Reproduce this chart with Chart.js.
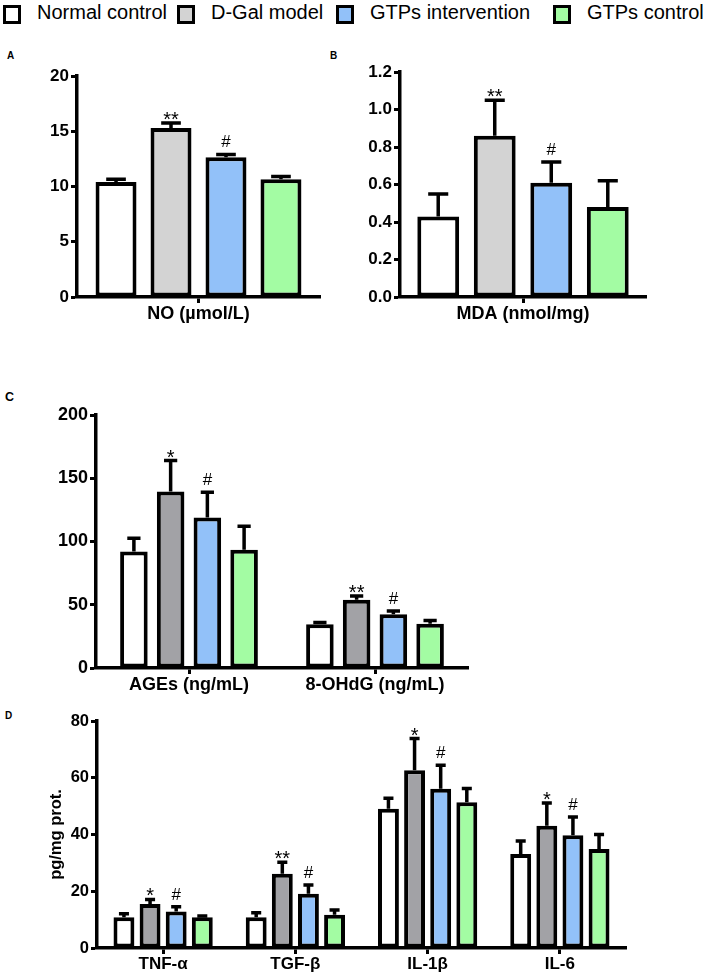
<!DOCTYPE html>
<html lang="en">
<head>
<meta charset="UTF-8">
<title>GTPs - oxidative stress and inflammation</title>
<script src="https://cdn.jsdelivr.net/npm/chart.js"></script>
<style>
  body {
    margin: 0;
    width: 708px;
    height: 978px;
    position: relative;
    overflow: hidden;
    background: #fff;
    font-family: "Liberation Sans", Arial, sans-serif;
    color: #000;
  }
  canvas { position: absolute; }
  .letter { position: absolute; font-weight: bold; line-height: 1; }
  .key {
    position: absolute;
    top: 5px;
    width: 18px;
    height: 19px;
    box-sizing: border-box;
    border: 3px solid #000;
  }
  .key-label { position: absolute; top: 1px; font-size: 20px; line-height: 23px; white-space: nowrap; }
</style>
</head>
<body>
<div id="legend"></div>

<div class="letter" style="left:7px;top:51px;font-size:10px">A</div>
<div class="letter" style="left:330px;top:51px;font-size:10px">B</div>
<div class="letter" style="left:5px;top:391px;font-size:12.5px">C</div>
<div class="letter" style="left:5px;top:711px;font-size:10px">D</div>

<canvas id="chartA" width="340" height="300" style="left:0;top:40px"></canvas>
<canvas id="chartB" width="340" height="300" style="left:330px;top:40px"></canvas>
<canvas id="chartC" width="708" height="320" style="left:0;top:380px"></canvas>
<canvas id="chartD" width="708" height="278" style="left:0;top:700px"></canvas>

<script>
const groups = ['Normal control', 'D-Gal model', 'GTPs intervention', 'GTPs control'];

// A - NO
const noLabels = ['NO (µmol/L)'];
const noMean = [10.4, 15.3, 12.65, 10.65];
const noErr = [0.25, 0.45, 0.25, 0.25];
const noSig = ['', '**', '#', ''];

// B - MDA
const mdaLabels = ['MDA (nmol/mg)'];
const mdaMean = [0.43, 0.86, 0.61, 0.48];
const mdaErr = [0.12, 0.19, 0.11, 0.14];
const mdaSig = ['', '**', '#', ''];

// C - AGEs / 8-OHdG
const cLabels = ['AGEs (ng/mL)', '8-OHdG (ng/mL)'];
const agesMean = [92, 139.5, 119, 93.5];
const agesErr = [10.5, 24.5, 20, 18.5];
const agesSig = ['', '*', '#', ''];
const ohdgMean = [34.5, 54, 42.5, 35];
const ohdgErr = [1.5, 3, 2.5, 2.5];
const ohdgSig = ['', '**', '#', ''];

// D - cytokines
const dLabels = ['TNF-α', 'TGF-β', 'IL-1β', 'IL-6'];
const tnfMean = [10.8, 15.5, 12.9, 10.8];
const tnfErr = [1.3, 1.6, 1.6, 0.5];
const tnfSig = ['', '*', '#', ''];
const tgfMean = [10.8, 26.2, 19.1, 11.7];
const tgfErr = [1.6, 4.0, 3.1, 1.7];
const tgfSig = ['', '**', '#', ''];
const il1bMean = [49.1, 62.6, 56.1, 51.4];
const il1bErr = [3.7, 11.2, 8.3, 4.8];
const il1bSig = ['', '*', '#', ''];
const il6Mean = [33.1, 43.1, 39.7, 34.9];
const il6Err = [4.6, 8.0, 6.5, 5.1];
const il6Sig = ['', '*', '#', ''];

const lightColors = ['#ffffff', '#d3d3d3', '#92c1f9', '#a3fca3'];
const darkColors = ['#ffffff', '#a2a2a6', '#92c1f9', '#a3fca3'];
const FONT = '"Liberation Sans", Arial, sans-serif';

// legend across the top
const legendX = [3, 177, 336, 553];
const legend = document.getElementById('legend');
groups.forEach((g, i) => {
    const box = document.createElement('div');
    box.className = 'key';
    box.style.left = legendX[i] + 'px';
    box.style.background = lightColors[i];
    legend.appendChild(box);
    const txt = document.createElement('div');
    txt.className = 'key-label';
    txt.style.left = (legendX[i] + 34) + 'px';
    txt.textContent = g;
    legend.appendChild(txt);
});

// error bars + significance marks
const errorBars = {
    id: 'errorBars',
    afterDatasetsDraw(chart) {
        const ctx = chart.ctx;
        const y = chart.scales.y;
        chart.data.datasets.forEach((ds, i) => {
            chart.getDatasetMeta(i).data.forEach((bar, j) => {
                const top = y.getPixelForValue(ds.data[j] + ds.errors[j]);
                const half = bar.width * 0.24;
                ctx.save();
                ctx.strokeStyle = '#000';
                ctx.lineWidth = 3.5;
                ctx.beginPath();
                ctx.moveTo(bar.x, bar.y);
                ctx.lineTo(bar.x, top);
                ctx.moveTo(bar.x - half, top);
                ctx.lineTo(bar.x + half, top);
                ctx.stroke();
                const mark = ds.marks[j];
                if (mark) {
                    ctx.fillStyle = '#000';
                    ctx.textAlign = 'center';
                    ctx.textBaseline = 'alphabetic';
                    if (mark === '#') {
                        ctx.font = '17px ' + FONT;
                        ctx.fillText(mark, bar.x, top - 7);
                    } else {
                        ctx.font = '20px ' + FONT;
                        ctx.fillText(mark, bar.x, top + 3);
                    }
                }
                ctx.restore();
            });
        });
    }
};

function makePanel(id, cfg) {
    const datasets = groups.map((g, i) => ({
        label: g,
        data: cfg.means.map(m => m[i]),
        errors: cfg.errs.map(e => e[i]),
        marks: cfg.sigs.map(s => s[i]),
        backgroundColor: cfg.colors[i],
        borderColor: '#000',
        borderWidth: 4,
        borderSkipped: false,
        categoryPercentage: cfg.catPct,
        barPercentage: cfg.barPct
    }));

    return new Chart(document.getElementById(id), {
        type: 'bar',
        data: { labels: cfg.labels, datasets: datasets },
        options: {
            responsive: false,
            animation: false,
            layout: { padding: cfg.padding },
            plugins: { legend: { display: false }, tooltip: { enabled: false } },
            scales: {
                x: {
                    grid: { offset: false, drawOnChartArea: false, tickLength: 6, tickWidth: 3, tickColor: '#000' },
                    border: { color: '#000', width: 3.5 },
                    ticks: {
                        color: '#000',
                        padding: 0,
                        maxRotation: 0,
                        autoSkip: false,
                        font: { family: FONT, size: cfg.xFont, weight: 'bold' }
                    },
                    afterFit: s => { s.height = cfg.xHeight; }
                },
                y: {
                    min: 0,
                    max: cfg.max,
                    grid: { drawOnChartArea: false, tickLength: 6, tickWidth: 3, tickColor: '#000' },
                    border: { color: '#000', width: 3.5 },
                    ticks: {
                        stepSize: cfg.step,
                        color: '#000',
                        padding: 2,
                        font: { family: FONT, size: cfg.yFont, weight: 'bold' },
                        callback: cfg.fmt || (v => v)
                    },
                    title: cfg.yTitle ? {
                        display: true,
                        text: cfg.yTitle,
                        color: '#000',
                        font: { family: FONT, size: 16.5, weight: 'bold' },
                        padding: { top: 47, bottom: 0 }
                    } : { display: false },
                    afterFit: s => { s.width = cfg.yWidth; }
                }
            }
        },
        plugins: [errorBars]
    });
}

makePanel('chartA', {
    labels: noLabels, means: [noMean], errs: [noErr], sigs: [noSig],
    colors: lightColors, catPct: 0.905, barPct: 0.745,
    max: 20, step: 5, yWidth: 77, xHeight: 43,
    padding: { top: 36, right: 20, left: 0, bottom: 0 },
    xFont: 18, yFont: 17
});

makePanel('chartB', {
    labels: mdaLabels, means: [mdaMean], errs: [mdaErr], sigs: [mdaSig],
    colors: lightColors, catPct: 0.919, barPct: 0.74,
    max: 1.2, step: 0.2, fmt: v => v.toFixed(1), yWidth: 70, xHeight: 43,
    padding: { top: 32, right: 24, left: 0, bottom: 0 },
    xFont: 18, yFont: 17
});

makePanel('chartC', {
    labels: cLabels, means: [agesMean, ohdgMean], errs: [agesErr, ohdgErr], sigs: [agesSig, ohdgSig],
    colors: darkColors, catPct: 0.79, barPct: 0.75,
    max: 200, step: 50, yWidth: 96, xHeight: 32,
    padding: { top: 35, right: 240, left: 0, bottom: 0 },
    xFont: 18, yFont: 18
});

makePanel('chartD', {
    labels: dLabels,
    means: [tnfMean, tgfMean, il1bMean, il6Mean],
    errs: [tnfErr, tgfErr, il1bErr, il6Err],
    sigs: [tnfSig, tgfSig, il1bSig, il6Sig],
    colors: darkColors, catPct: 0.79, barPct: 0.8,
    max: 80, step: 20, yWidth: 97, xHeight: 30,
    padding: { top: 21, right: 82, left: 0, bottom: 0 },
    xFont: 17, yFont: 16.5, yTitle: 'pg/mg prot.'
});
</script>
</body>
</html>
